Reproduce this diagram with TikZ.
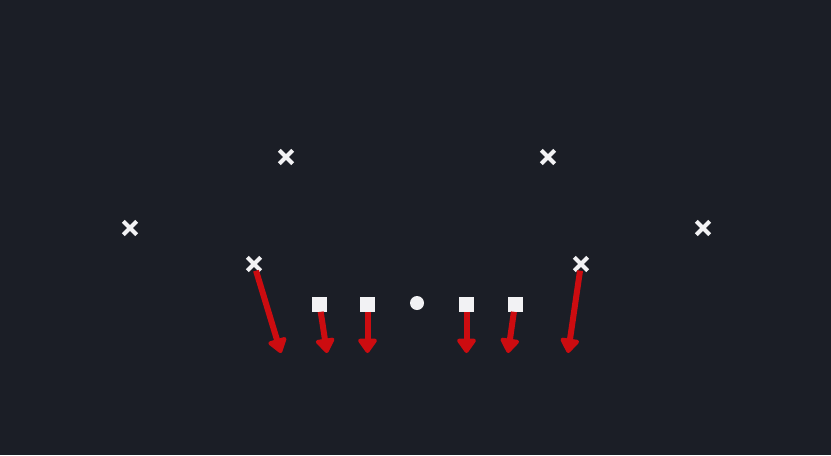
\documentclass[tikz,border=0pt]{standalone}
\usetikzlibrary{arrows.meta,shapes.misc}
\definecolor{field}{RGB}{27,30,38}
\definecolor{chalk}{RGB}{242,242,244}
\definecolor{rush}{RGB}{204,12,16}
\tikzset{
  defender/.style={cross out,draw=chalk,line width=3pt,minimum size=7pt,inner sep=0pt},
  lineman/.style={rectangle,fill=chalk,minimum size=11.25pt,inner sep=0pt},
  snapper/.style={circle,fill=chalk,minimum size=10.5pt,inner sep=0pt},
  rusharrow/.style={draw=rush,line width=4.5pt,-{Triangle[width=16pt,length=12pt,round]}}
}
\begin{document}
\begin{tikzpicture}[x=0.75pt,y=0.75pt,yscale=-1,xscale=1]
\fill[field] (0,0) rectangle (831,455);
\useasboundingbox (0,0) rectangle (831,455);

% Defense
\node[defender] (s1) at (286,157) {};
\node[defender] (s2) at (548,157) {};
\node[defender] (c1) at (130,228) {};
\node[defender] (c2) at (703,228) {};
\node[defender] (e1) at (254,264) {};
\node[defender] (e2) at (581,264) {};
% Offensive line
\node[lineman] (t1) at (319.5,304) {};
\node[lineman] (g1) at (367.5,304) {};
\node[snapper] (ce) at (417,303) {};
\node[lineman] (g2) at (466.5,304) {};
\node[lineman] (t2) at (515,304) {};
% Arrow ends
\coordinate (ee1) at (281,353);
\coordinate (et1) at (327,353);
\coordinate (eg1) at (367.5,353);
\coordinate (eg2) at (466.5,353);
\coordinate (et2) at (508,353);
\coordinate (ee2) at (568,353);
% Connection
\draw[rusharrow] (e1) -- (ee1);
\draw[rusharrow] (t1) -- (et1);
\draw[rusharrow] (g1) -- (eg1);
\draw[rusharrow] (g2) -- (eg2);
\draw[rusharrow] (t2) -- (et2);
\draw[rusharrow] (e2) -- (ee2);

\end{tikzpicture}
\end{document}
